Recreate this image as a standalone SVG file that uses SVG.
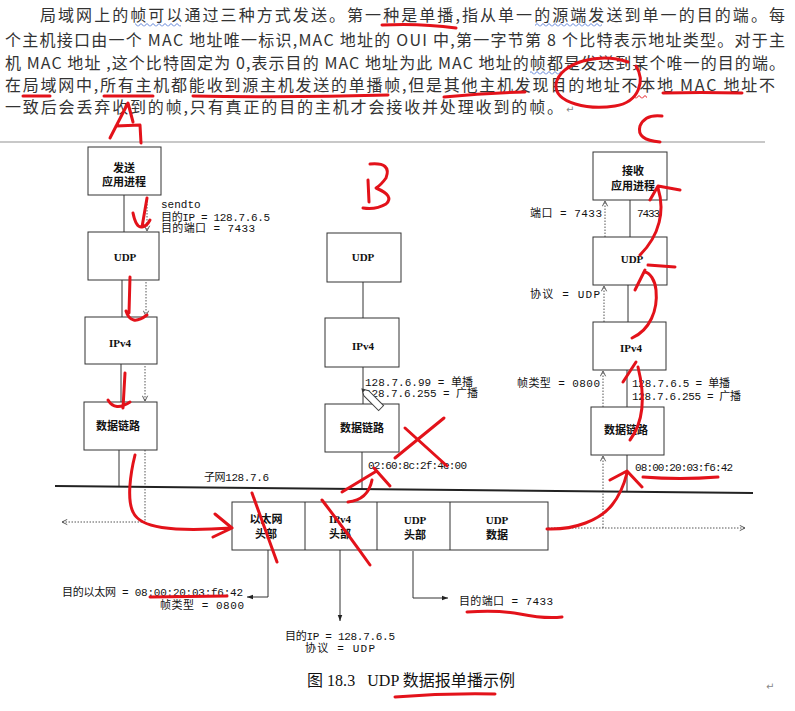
<svg xmlns="http://www.w3.org/2000/svg" width="795" height="711" viewBox="0 0 795 711">
<style>
.p{font-family:"Noto Sans CJK SC","Liberation Serif",serif;font-size:16px;fill:#333}
.bx{fill:#fff;stroke:#333;stroke-width:1}
.bl{font-family:"Liberation Serif","Noto Sans CJK SC",serif;font-size:11px;fill:#111;text-anchor:middle;font-weight:bold}
.lb{font-family:"Liberation Mono","Noto Sans CJK SC",monospace;font-size:11px;fill:#111}
.ln{stroke:#333;stroke-width:1;fill:none}
.dt{stroke:#555;stroke-width:1;stroke-dasharray:1.5 1.5;fill:none}
.r{fill:none;stroke:#e3121a;stroke-width:3;stroke-linecap:round;stroke-linejoin:round}
</style>
<defs>
<marker id="open" viewBox="0 0 8 8" refX="7" refY="4" markerWidth="7" markerHeight="7" orient="auto" markerUnits="userSpaceOnUse"><path d="M1 1 L7 4 L1 7" fill="none" stroke="#444" stroke-width="1"/></marker>
<marker id="tri" viewBox="0 0 8 8" refX="8" refY="4" markerWidth="6" markerHeight="6" orient="auto" markerUnits="userSpaceOnUse"><path d="M0 1 L8 4 L0 7 z" fill="#222"/></marker>
<pattern id="wb" x="0" y="23" width="6" height="4" patternUnits="userSpaceOnUse"><path d="M0 3.5 L3 0.5 L6 3.5" stroke="#5b7fd6" fill="none" stroke-width="1"/></pattern>
<pattern id="wr" x="0" y="23" width="6" height="4" patternUnits="userSpaceOnUse"><path d="M0 3.5 L3 0.5 L6 3.5" stroke="#e3121a" fill="none" stroke-width="1"/></pattern>
</defs>
<rect width="795" height="711" fill="#fff"/>

<g id="paragraph">
<text class="p" x="40" y="21" textLength="745" lengthAdjust="spacing">局域网上的帧可以通过三种方式发送。第一种是单播,指从单一的源端发送到单一的目的端。每</text>
<text class="p" x="5" y="46" textLength="780" lengthAdjust="spacing">个主机接口由一个 MAC 地址唯一标识,MAC 地址的 OUI 中,第一字节第 8 个比特表示地址类型。对于主</text>
<text class="p" x="5" y="69" textLength="780" lengthAdjust="spacing">机 MAC 地址 ,这个比特固定为 0,表示目的 MAC 地址为此 MAC 地址的帧都是发送到某个唯一的目的端。</text>
<text class="p" x="5" y="91" textLength="770" lengthAdjust="spacing">在局域网中,所有主机都能收到源主机发送的单播帧,但是其他主机发现目的地址不本地 MAC 地址不</text>
<text class="p" x="5" y="113" textLength="558" lengthAdjust="spacing">一致后会丢弃收到的帧,只有真正的目的主机才会接收并处理收到的帧。</text>
<text x="566" y="113" font-family="DejaVu Sans,sans-serif" font-size="10" fill="#888">↵</text>
<rect x="135" y="23" width="46" height="4" fill="url(#wb)"/>
<rect x="535" y="23" width="67" height="4" fill="url(#wb)"/>
<rect x="530" y="71" width="31" height="4" fill="url(#wb)"/>
<rect x="635" y="95" width="12" height="4" fill="url(#wr)"/>
</g>
<line x1="0" y1="142" x2="765" y2="142" stroke="#c8c8c8" stroke-width="2"/>

<g id="connectors">
<line class="ln" x1="124" y1="195" x2="124" y2="232"/>
<line class="ln" x1="122" y1="280" x2="122" y2="317"/>
<line class="ln" x1="121" y1="364" x2="121" y2="402"/>
<line class="ln" x1="119" y1="450" x2="119" y2="486.5"/>
<line class="dt" x1="147" y1="198" x2="147" y2="231" marker-end="url(#open)"/>
<line class="dt" x1="146" y1="282" x2="146" y2="316" marker-end="url(#open)"/>
<line class="dt" x1="145" y1="366" x2="145" y2="401" marker-end="url(#open)"/>
<polyline class="dt" points="145,450 145,522 62,522" marker-end="url(#open)"/>
<line class="ln" x1="363" y1="282" x2="363" y2="318"/>
<line class="ln" x1="363" y1="367" x2="363" y2="404"/>
<line class="ln" x1="362" y1="452" x2="362" y2="489"/>
<line class="ln" x1="630" y1="200" x2="630" y2="237"/>
<line class="ln" x1="628" y1="285" x2="628" y2="322"/>
<line class="ln" x1="627" y1="370" x2="627" y2="407"/>
<line class="ln" x1="627" y1="455" x2="627" y2="492"/>
<line class="dt" x1="605" y1="237" x2="605" y2="201" marker-end="url(#open)"/>
<line class="dt" x1="604" y1="322" x2="604" y2="286" marker-end="url(#open)"/>
<line class="dt" x1="603" y1="407" x2="603" y2="371" marker-end="url(#open)"/>
<line class="dt" x1="603" y1="528" x2="603" y2="456" marker-end="url(#open)"/>
<line class="dt" x1="548" y1="528" x2="745" y2="528" marker-end="url(#open)"/>
<line x1="55" y1="486" x2="753" y2="493" stroke="#222" stroke-width="2"/>
<polyline class="ln" points="268,549 268,597 247,597" marker-end="url(#tri)"/>
<line class="ln" x1="340" y1="549" x2="340" y2="621" marker-end="url(#tri)"/>
<polyline class="ln" points="413,551 413,598 448,598" marker-end="url(#tri)"/>
</g>

<g id="send-app"><rect class="bx" x="88" y="147" width="73" height="48"/><text class="bl" x="124" y="172">发送</text><text class="bl" x="124" y="186">应用进程</text></g>
<g id="udp-a"><rect class="bx" x="88" y="232" width="71" height="48"/><text class="bl" x="125" y="261">UDP</text></g>
<g id="ipv4-a"><rect class="bx" x="85" y="317" width="72" height="47"/><text class="bl" x="120" y="347">IPv4</text></g>
<g id="link-a"><rect class="bx" x="84" y="402" width="73" height="48"/><text class="bl" x="118" y="430">数据链路</text></g>

<g id="udp-b"><rect class="bx" x="327" y="233" width="74" height="49"/><text class="bl" x="363" y="261">UDP</text></g>
<g id="ipv4-b"><rect class="bx" x="325" y="318" width="74" height="49"/><text class="bl" x="363" y="350">IPv4</text></g>
<g id="link-b"><rect class="bx" x="325" y="404" width="74" height="48"/><text class="bl" x="362" y="432">数据链路</text></g>

<g id="recv-app"><rect class="bx" x="593" y="152" width="74" height="48"/><text class="bl" x="633" y="175">接收</text><text class="bl" x="633" y="190">应用进程</text></g>
<g id="udp-c"><rect class="bx" x="593" y="237" width="74" height="48"/><text class="bl" x="632" y="263">UDP</text></g>
<g id="ipv4-c"><rect class="bx" x="593" y="322" width="73" height="48"/><text class="bl" x="631" y="352">IPv4</text></g>
<g id="link-c"><rect class="bx" x="591" y="407" width="73" height="48"/><text class="bl" x="626" y="434">数据链路</text></g>

<g id="frame">
<rect class="bx" x="232" y="502" width="316" height="48"/>
<line class="ln" x1="305" y1="502" x2="305" y2="550"/>
<line class="ln" x1="377" y1="502" x2="377" y2="550"/>
<line class="ln" x1="450" y1="502" x2="450" y2="550"/>
<text class="bl" x="266" y="523">以太网</text><text class="bl" x="266" y="538">头部</text>
<text class="bl" x="340" y="523">IPv4</text><text class="bl" x="340" y="538">头部</text>
<text class="bl" x="415" y="524">UDP</text><text class="bl" x="415" y="539">头部</text>
<text class="bl" x="497" y="524">UDP</text><text class="bl" x="497" y="539">数据</text>
</g>

<g id="labels">
<text class="lb" x="161" y="208" font-family="Liberation Serif,serif">sendto</text>
<text class="lb" x="161" y="221" textLength="109" lengthAdjust="spacing">目的IP = 128.7.6.5</text>
<text class="lb" x="161" y="232" textLength="94" lengthAdjust="spacing">目的端口 = 7433</text>
<text class="lb" x="365" y="386" textLength="108" lengthAdjust="spacing">128.7.6.99 = 单播</text>
<text class="lb" x="365" y="397" textLength="113" lengthAdjust="spacing">128.7.6.255 = 广播</text>
<text class="lb" x="368" y="469" textLength="99" lengthAdjust="spacing">02:60:8c:2f:4e:00</text>
<text class="lb" x="530" y="217" textLength="72" lengthAdjust="spacing">端口 = 7433</text>
<text class="lb" x="637" y="217" textLength="23" lengthAdjust="spacing">7433</text>
<text class="lb" x="530" y="298" textLength="70" lengthAdjust="spacing">协议 = UDP</text>
<text class="lb" x="517" y="387" textLength="83" lengthAdjust="spacing">帧类型 = 0800</text>
<text class="lb" x="632" y="387" textLength="98" lengthAdjust="spacing">128.7.6.5 = 单播</text>
<text class="lb" x="632" y="400" textLength="109" lengthAdjust="spacing">128.7.6.255 = 广播</text>
<text class="lb" x="635" y="471" textLength="98" lengthAdjust="spacing">08:00:20:03:f6:42</text>
<text class="lb" x="204" y="481" textLength="65" lengthAdjust="spacing">子网128.7.6</text>
<text class="lb" x="62" y="596" textLength="181" lengthAdjust="spacing">目的以太网 = 08:00:20:03:f6:42</text>
<text class="lb" x="160" y="609" textLength="84" lengthAdjust="spacing">帧类型 = 0800</text>
<text class="lb" x="459" y="605" textLength="94" lengthAdjust="spacing">目的端口 = 7433</text>
<text class="lb" x="285" y="640" textLength="110" lengthAdjust="spacing">目的IP = 128.7.6.5</text>
<text class="lb" x="305" y="652" textLength="70" lengthAdjust="spacing">协议 = UDP</text>
<text x="307" y="686" xml:space="preserve" textLength="208" lengthAdjust="spacing" font-family="Liberation Serif,Noto Sans CJK SC,serif" font-size="16" fill="#111">图 18.3   UDP 数据报单播示例</text>
<text x="766" y="690" font-family="DejaVu Sans,sans-serif" font-size="10" fill="#888">↵</text>
</g>

<g id="cursor" transform="translate(362,389) rotate(45)"><polygon points="0,0 6,-3.5 27,-3.5 27,3.5 6,3.5" fill="#fff" stroke="#444" stroke-width="1"/><polygon points="0,0 3,-1.8 3,1.8" fill="#333"/></g>

<g id="annotations">
<path class="r" d="M382 25 Q420 23 456 28"/>
<path class="r" d="M628 62 C600 52 560 62 556 84 C554 104 590 110 615 106 C640 102 645 80 636 66"/>
<path class="r" d="M23 96 L50 96"/>
<path class="r" d="M104 96 L153 96"/>
<path class="r" d="M193 96 Q290 98 388 95"/>
<path class="r" d="M444 97 Q485 93 525 92"/>
<path class="r" d="M663 93 Q700 92 742 93"/>
<path class="r" d="M110 138 L128 103 L133 122 M116 126 L140 125 L141 143"/>
<path class="r" d="M368 180 L369 202 M370 164 Q392 162 386 178 Q381 185 376 188 Q395 196 386 204 Q376 210 363 208"/>
<path class="r" d="M662 116 Q645 114 640 126 Q636 140 660 142"/>
<path class="r" d="M147 198 L142 227 M133 213 Q136 228 142 227 Q147 226 150 220"/>
<path class="r" d="M130 277 L129 313 M126 311 Q131 327 147 315"/>
<path class="r" d="M125 373 L123 408 M108 400 Q115 412 130 402"/>
<path class="r" d="M135 455 C130 475 127 500 133 512 C140 528 170 532 232 528 M215 514 L232 528 L213 537"/>
<path class="r" d="M252 493 L277 562"/>
<path class="r" d="M322 500 Q345 530 370 565"/>
<path class="r" d="M444 418 L395 458 M405 428 L447 466"/>
<path class="r" d="M342 492 L375 472 M374 468 L390 486 M348 502 Q368 500 372 480"/>
<path class="r" d="M547 529 C575 530 600 520 612 505 C620 495 624 485 627 473 M610 480 L627 471 L642 487"/>
<path class="r" d="M643 477 Q680 480 718 477"/>
<path class="r" d="M630 440 C645 420 645 395 638 367 M623 382 L636 362"/>
<path class="r" d="M632 338 C650 330 658 310 656 290 C655 280 650 273 645 272 M635 290 L645 270 M648 265 L675 267"/>
<path class="r" d="M640 255 C660 235 665 210 658 188 M650 200 L658 186 L680 190"/>
<path class="r" d="M150 597 L227 596"/>
<path class="r" d="M467 612 Q500 610 520 614 Q545 619 562 617"/>
<path class="r" d="M395 697 Q445 693 495 694"/>
</g>
</svg>
